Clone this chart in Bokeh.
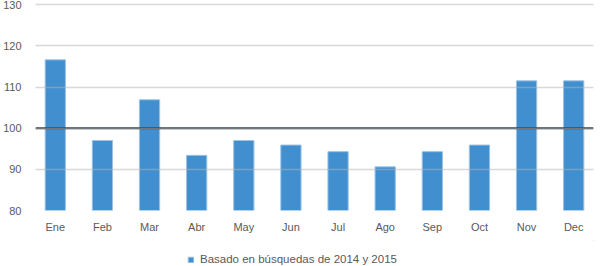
from bokeh.plotting import figure
from bokeh.layouts import column
from bokeh.models import Range1d, FactorRange, Span, Legend, LegendItem, FixedTicker, ColumnDataSource
from bokeh.embed import file_html
from bokeh.resources import INLINE

months = ["Ene", "Feb", "Mar", "Abr", "May", "Jun", "Jul", "Ago", "Sep", "Oct", "Nov", "Dec"]
values = [116.6, 97.0, 106.9, 93.4, 97.0, 95.9, 94.3, 90.6, 94.3, 95.9, 111.5, 111.5]
y_ticks = [80, 90, 100, 110, 120, 130]
baseline = 100
series_name = "Basado en búsquedas de 2014 y 2015"

FONT = "Liberation Sans"
TXT = "#595959"
BAR_FILL = "#418fce"
BAR_LINE = "#9cc3e6"

src = ColumnDataSource(dict(x=months, top=values))

p = figure(width=600, height=240, output_backend="svg", toolbar_location=None,
           x_range=FactorRange(factors=months, range_padding=-0.08, range_padding_units="absolute"),
           y_range=Range1d(80, 130.05),
           min_border_left=33, min_border_right=7, min_border_top=4, min_border_bottom=30)
p.outline_line_color = None
p.background_fill_color = "white"
p.border_fill_color = "white"

r = p.vbar(x="x", top="top", bottom=80, width=0.43, source=src,
           fill_color=BAR_FILL, line_color=BAR_LINE, line_width=1)

p.xgrid.grid_line_color = None
p.ygrid.ticker = FixedTicker(ticks=y_ticks)
p.ygrid.grid_line_color = "#b3b3b3"
p.ygrid.grid_line_alpha = 0.5
p.ygrid.grid_line_width = 1.5
p.ygrid.level = "overlay"

p.yaxis.ticker = FixedTicker(ticks=y_ticks)
for ax in (p.xaxis[0], p.yaxis[0]):
    ax.axis_line_color = None
    ax.major_tick_line_color = None
    ax.minor_tick_line_color = None
    ax.major_tick_out = 0
    ax.major_tick_in = 0
    ax.minor_tick_out = 0
    ax.major_label_text_font = FONT
    ax.major_label_text_font_size = "11px"
    ax.major_label_text_color = TXT
p.yaxis.major_label_standoff = 14
p.xaxis.major_label_standoff = 10

p.add_layout(Span(location=baseline, dimension="width", line_color="#2f3b40", line_width=2))

# legend strip
p2 = figure(width=600, height=26, output_backend="svg", toolbar_location=None,
            x_range=Range1d(0, 1), y_range=Range1d(0, 1),
            min_border_left=0, min_border_right=0, min_border_top=0, min_border_bottom=0)
p2.axis.visible = False
p2.grid.visible = False
p2.outline_line_color = None
r2 = p2.vbar(x=[5], top=[6], bottom=[5], width=0.1, fill_color=BAR_FILL, line_color=BAR_LINE, line_width=1)

legend = Legend(items=[LegendItem(label=series_name, renderers=[r2])],
                location=(152, 1), orientation="horizontal",
                border_line_color=None, background_fill_alpha=0,
                padding=0, margin=0, spacing=0,
                glyph_width=7, glyph_height=7, label_height=12, label_standoff=6,
                label_text_font=FONT, label_text_font_size="11.5px", label_text_color=TXT)
p2.add_layout(legend, "center")

layout = column(p, p2, spacing=0)
open("out.html", "w").write(file_html(layout, INLINE))
